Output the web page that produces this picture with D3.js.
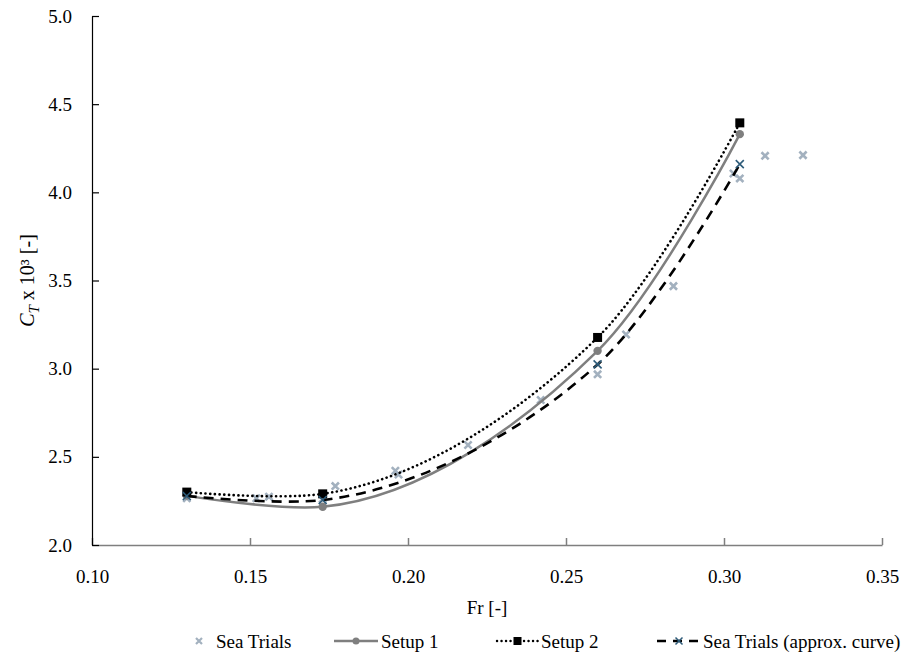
<!DOCTYPE html>
<html>
<head>
<meta charset="utf-8">
<script src="https://cdn.jsdelivr.net/npm/d3@7"></script>
<style>
  body { margin: 0; background: #fff; }
</style>
</head>
<body>
<div id="chart"></div>
<script>
// sea trials (scatter)
var seaFr = [0.130, 0.152, 0.156, 0.173, 0.177, 0.196, 0.197, 0.219, 0.242, 0.260, 0.269, 0.284, 0.303, 0.305, 0.313, 0.325];
var seaCt = [2.265, 2.265, 2.274, 2.260, 2.334, 2.421, 2.400, 2.567, 2.822, 2.968, 3.194, 3.468, 4.107, 4.079, 4.207, 4.211];

// model setups + approx curve
var setupFr = [0.130, 0.173, 0.260, 0.305];
var setup1Ct = [2.280, 2.217, 3.101, 4.330];
var setup2Ct = [2.300, 2.290, 3.177, 4.394];
var approxCt = [2.278, 2.255, 3.024, 4.160];

var xTicks = [0.10, 0.15, 0.20, 0.25, 0.30, 0.35];
var yTicks = [2.0, 2.5, 3.0, 3.5, 4.0, 4.5, 5.0];

var width = 908, height = 659;
var margin = { left: 92, right: 26, top: 16, bottom: 114 };
var serif = "'Liberation Serif', 'Times New Roman', 'DejaVu Serif', serif";

var svg = d3.select("#chart").append("svg")
    .attr("width", width)
    .attr("height", height)
    .attr("font-family", serif);

var x = d3.scaleLinear().domain([0.10, 0.35]).range([margin.left, width - margin.right]);
var y = d3.scaleLinear().domain([2.0, 5.0]).range([height - margin.bottom, margin.top]);

// axes (ticks inside)
var xAxis = svg.append("g")
    .attr("transform", "translate(0," + y(2.0) + ")")
    .call(d3.axisBottom(x).tickValues(xTicks).tickSizeInner(-7).tickSizeOuter(0).tickPadding(25).tickFormat(d3.format(".2f")));
xAxis.attr("font-family", serif).attr("font-size", 19);
xAxis.select(".domain").attr("stroke", "#7f7f7f").attr("stroke-width", 1.5);
xAxis.selectAll(".tick line").attr("stroke", "#7f7f7f").attr("stroke-width", 1.5);
xAxis.selectAll("text").attr("fill", "#000").style("font-family", serif);

var yAxis = svg.append("g")
    .attr("transform", "translate(" + x(0.10) + ",0)")
    .call(d3.axisLeft(y).tickValues(yTicks).tickSizeInner(-7).tickSizeOuter(0).tickPadding(20).tickFormat(d3.format(".1f")));
yAxis.attr("font-family", serif).attr("font-size", 19);
yAxis.select(".domain").attr("stroke", "#000").attr("stroke-width", 1.2);
yAxis.selectAll(".tick line").attr("stroke", "#000").attr("stroke-width", 1.2);
yAxis.selectAll("text").attr("fill", "#000").style("font-family", serif);

// axis titles
svg.append("text")
    .attr("x", (x(0.10) + x(0.35)) / 2)
    .attr("y", 614)
    .attr("text-anchor", "middle")
    .attr("font-size", 19)
    .style("font-family", serif)
    .text("Fr [-]");

var yt = svg.append("text")
    .attr("transform", "translate(34," + y(3.5) + ") rotate(-90)")
    .attr("text-anchor", "middle")
    .attr("font-size", 20)
    .style("font-family", serif);
yt.append("tspan").attr("font-style", "italic").text("C");
yt.append("tspan").attr("font-style", "italic").attr("font-size", 15).attr("dy", 5).text("T");
yt.append("tspan").attr("dy", -5).text(" x 10³ [-]");

var smooth = d3.line()
    .x(function (d) { return x(d[0]); })
    .y(function (d) { return y(d[1]); })
    .curve(d3.curveCatmullRom.alpha(1));

function pairs(xs, ys) {
    return xs.map(function (v, i) { return [v, ys[i]]; });
}

var plot = svg.append("g");

function xMark(g, cx, cy, size, color, sw) {
    g.append("path")
        .attr("d", "M" + (cx - size) + "," + (cy - size) + "L" + (cx + size) + "," + (cy + size) +
            "M" + (cx - size) + "," + (cy + size) + "L" + (cx + size) + "," + (cy - size))
        .attr("stroke", color)
        .attr("stroke-width", sw)
        .attr("fill", "none");
}

// sea trials scatter
pairs(seaFr, seaCt).forEach(function (d) {
    xMark(plot, x(d[0]), y(d[1]), 3.6, "#a3b1bf", 2.6);
});

// setup 1
plot.append("path")
    .attr("d", smooth(pairs(setupFr, setup1Ct)))
    .attr("fill", "none")
    .attr("stroke", "#7f7f7f")
    .attr("stroke-width", 2.5);
pairs(setupFr, setup1Ct).forEach(function (d) {
    plot.append("circle").attr("cx", x(d[0])).attr("cy", y(d[1])).attr("r", 4.2).attr("fill", "#7f7f7f");
});

// setup 2
plot.append("path")
    .attr("d", smooth(pairs(setupFr, setup2Ct)))
    .attr("fill", "none")
    .attr("stroke", "#000")
    .attr("stroke-width", 2.6)
    .attr("stroke-linecap", "round")
    .attr("stroke-dasharray", "0.1,4.6");
pairs(setupFr, setup2Ct).forEach(function (d) {
    plot.append("rect").attr("x", x(d[0]) - 4.5).attr("y", y(d[1]) - 4.5)
        .attr("width", 9).attr("height", 9).attr("fill", "#000");
});

// sea trials approx curve
plot.append("path")
    .attr("d", smooth(pairs(setupFr, approxCt)))
    .attr("fill", "none")
    .attr("stroke", "#000")
    .attr("stroke-width", 2.6)
    .attr("stroke-dasharray", "10,7");
pairs(setupFr, approxCt).forEach(function (d) {
    xMark(plot, x(d[0]), y(d[1]), 4, "#2e5c7a", 1.6);
});

// legend
var lg = svg.append("g").attr("transform", "translate(0,641)").style("font-family", serif);
xMark(lg, 199, 0, 3, "#a3b1bf", 2.2);
lg.append("text").attr("x", 216).attr("y", 6.5).attr("font-size", 19).text("Sea Trials");

lg.append("line").attr("x1", 334).attr("x2", 378).attr("y1", 0).attr("y2", 0)
    .attr("stroke", "#7f7f7f").attr("stroke-width", 2.5);
lg.append("circle").attr("cx", 356).attr("cy", 0).attr("r", 3.5).attr("fill", "#7f7f7f");
lg.append("text").attr("x", 381).attr("y", 6.5).attr("font-size", 19).text("Setup 1");

lg.append("line").attr("x1", 497).attr("x2", 538).attr("y1", 0).attr("y2", 0)
    .attr("stroke", "#000").attr("stroke-width", 2.4).attr("stroke-linecap", "round")
    .attr("stroke-dasharray", "0.1,4.4");
lg.append("rect").attr("x", 513.5).attr("y", -4).attr("width", 8).attr("height", 8).attr("fill", "#000");
lg.append("text").attr("x", 541).attr("y", 6.5).attr("font-size", 19).text("Setup 2");

lg.append("line").attr("x1", 657).attr("x2", 700).attr("y1", 0).attr("y2", 0)
    .attr("stroke", "#000").attr("stroke-width", 2.4).attr("stroke-dasharray", "9,7");
xMark(lg, 679, 0, 3.5, "#2e5c7a", 1.5);
lg.append("text").attr("x", 703).attr("y", 6.5).attr("font-size", 19).text("Sea Trials (approx. curve)");
</script>
</body>
</html>
